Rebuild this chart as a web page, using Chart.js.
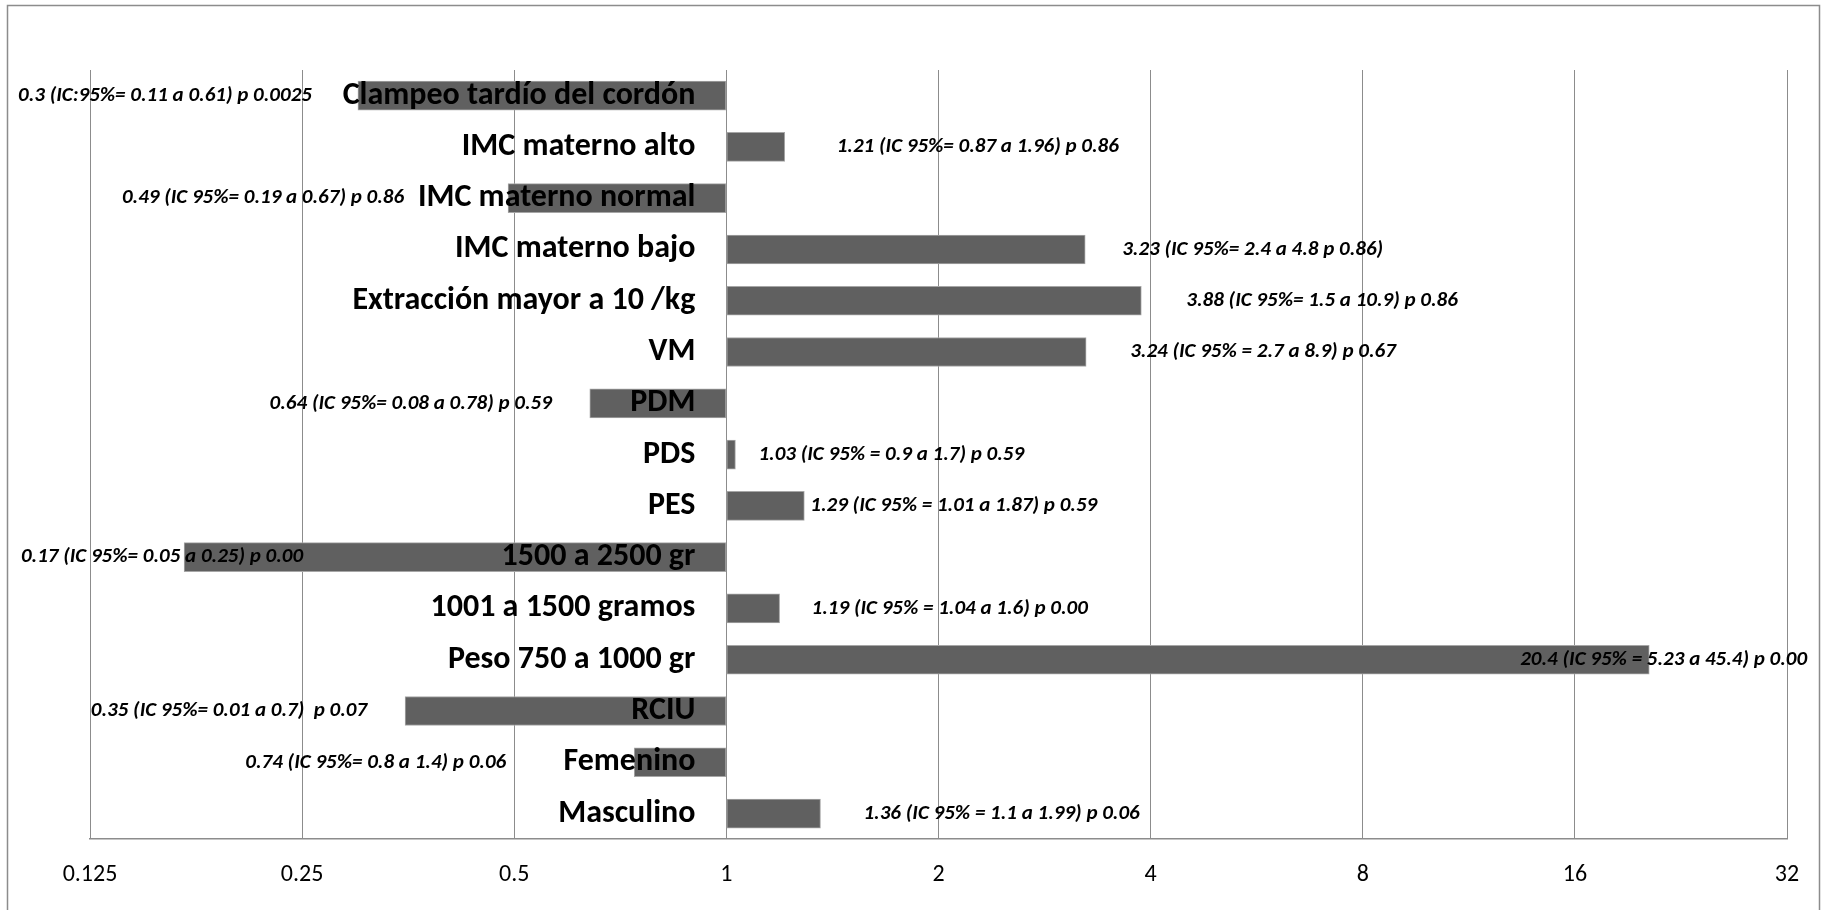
<!DOCTYPE html>
<html>
<head>
<meta charset="utf-8">
<script src="https://cdn.jsdelivr.net/npm/chart.js@4.4.0/dist/chart.umd.min.js"></script>
<style>
  html, body { margin: 0; padding: 0; background: #fff; }
  #wrap { width: 1830px; height: 910px; position: relative; }
</style>
</head>
<body>
<div id="wrap"><canvas id="oddsChart"></canvas></div>
<script>
// -------- DATA --------
const factores = [
    "Clampeo tardío del cordón",
    "IMC materno alto",
    "IMC materno normal",
    "IMC materno bajo",
    "Extracción mayor a 10 /kg",
    "VM",
    "PDM",
    "PDS",
    "PES",
    "1500 a 2500 gr",
    "1001 a 1500 gramos",
    "Peso 750 a 1000 gr",
    "RCIU",
    "Femenino",
    "Masculino"
];

const oddsRatio = [0.3, 1.21, 0.49, 3.23, 3.88, 3.24, 0.64, 1.03, 1.29, 0.17, 1.19, 20.4, 0.35, 0.74, 1.36];

const etiquetas = [
    "0.3 (IC:95%= 0.11 a 0.61) p 0.0025",
    "1.21 (IC 95%= 0.87 a 1.96) p 0.86",
    "0.49 (IC 95%= 0.19 a 0.67) p 0.86",
    "3.23 (IC 95%= 2.4 a 4.8 p 0.86)",
    "3.88 (IC 95%= 1.5 a 10.9) p 0.86",
    "3.24 (IC 95% = 2.7 a 8.9) p 0.67",
    "0.64 (IC 95%= 0.08 a 0.78) p 0.59",
    "1.03 (IC 95% = 0.9 a 1.7) p 0.59",
    "1.29 (IC 95% = 1.01 a 1.87) p 0.59",
    "0.17 (IC 95%= 0.05 a 0.25) p 0.00",
    "1.19 (IC 95% = 1.04 a 1.6) p 0.00",
    "20.4 (IC 95% = 5.23 a 45.4) p 0.00",
    "0.35 (IC 95%= 0.01 a 0.7)  p 0.07",
    "0.74 (IC 95%= 0.8 a 1.4) p 0.06",
    "1.36 (IC 95% = 1.1 a 1.99) p 0.06"
];

const tickValues = [0.125, 0.25, 0.5, 1, 2, 4, 8, 16, 32];
const tickLabels = ["0.125", "0.25", "0.5", "1", "2", "4", "8", "16", "32"];

// -------- LABEL LAYOUT --------
// gap in px between the bar end and its value label (labels were nudged by hand)
const labelGap = [46, 52, 104, 37, 45, 44, 38, 23, 6, -119, 32, -129, 38, 128, 43];

const FONT = "Carlito, Lato, sans-serif";
const GRID = "#8c8c8c";

// frame, category names and value labels
const labelsPlugin = {
    id: "labelsPlugin",
    beforeDraw(chart) {
        const ctx = chart.ctx;
        ctx.save();
        ctx.strokeStyle = GRID;
        ctx.lineWidth = 1.5;
        ctx.beginPath();
        ctx.moveTo(7.5, 1000);
        ctx.lineTo(7.5, 5.5);
        ctx.lineTo(1819.5, 5.5);
        ctx.lineTo(1819.5, 1000);
        ctx.stroke();
        ctx.restore();
    },
    afterDatasetsDraw(chart) {
        const ctx = chart.ctx;
        const meta = chart.getDatasetMeta(0);
        const x1 = chart.scales.x.getPixelForValue(1);
        ctx.save();
        ctx.fillStyle = "#000";
        ctx.textBaseline = "middle";
        meta.data.forEach((bar, i) => {
            // category name, right aligned against the 1 line
            ctx.font = "bold 32px " + FONT;
            ctx.textAlign = "right";
            ctx.fillText(factores[i], x1 - 31, bar.y);

            // value label
            ctx.font = "italic bold 21px " + FONT;
            if (oddsRatio[i] >= 1) {
                ctx.textAlign = "left";
                ctx.fillText(etiquetas[i], bar.x + labelGap[i], bar.y);
            } else {
                ctx.textAlign = "right";
                ctx.fillText(etiquetas[i], bar.x - labelGap[i], bar.y);
            }
        });
        ctx.restore();
    }
};

// -------- CHART --------
const chart = new Chart(document.getElementById("oddsChart"), {
    type: "bar",
    data: {
        labels: factores,
        datasets: [{
            data: oddsRatio,
            base: 1,
            backgroundColor: "#606060",
            borderColor: "#a6a6a6",
            borderWidth: 1,
            borderSkipped: false,
            barThickness: 29
        }]
    },
    options: {
        indexAxis: "y",
        responsive: true,
        maintainAspectRatio: false,
        animation: false,
        layout: {
            padding: { left: 90, right: 43, top: 70, bottom: 0 }
        },
        plugins: {
            legend: { display: false },
            tooltip: { enabled: false }
        },
        scales: {
            x: {
                type: "logarithmic",
                min: 0.125,
                max: 32,
                afterBuildTicks(scale) {
                    scale.ticks = tickValues.map(v => ({ value: v }));
                },
                grid: {
                    color: GRID,
                    lineWidth: 1,
                    drawTicks: false
                },
                border: { display: true, color: GRID, width: 1.5 },
                ticks: {
                    autoSkip: false,
                    maxRotation: 0,
                    padding: 21,
                    color: "#000",
                    font: { family: FONT, size: 24 },
                    callback: (value, index) => tickLabels[index]
                }
            },
            y: {
                display: false
            }
        }
    },
    plugins: [labelsPlugin]
});
</script>
</body>
</html>
